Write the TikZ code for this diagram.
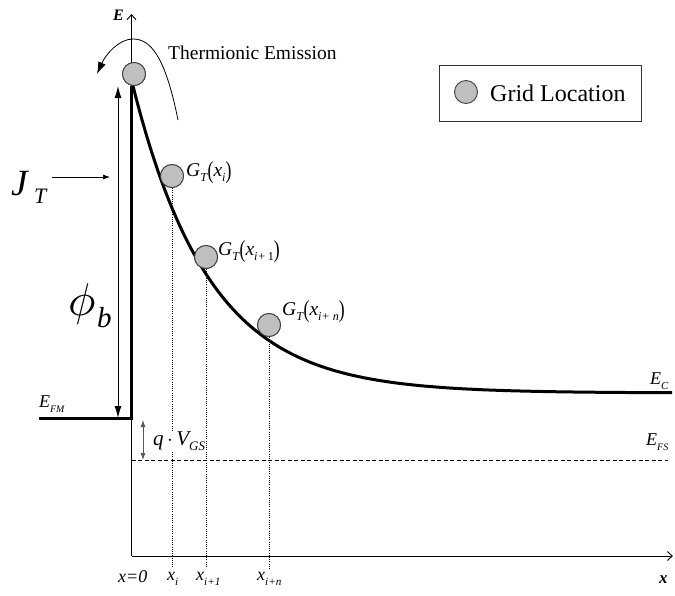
\documentclass[tikz,border=0pt]{standalone}
\usepackage{fontspec}
\setmainfont{Liberation Serif}
\usepackage{graphicx}
\usetikzlibrary{arrows.meta}
\newcommand\lsub[2][0.62]{\raisebox{-0.28em}{\scalebox{#1}{#2}}}
\newcommand\fsz[1]{\fontsize{#1}{#1}\selectfont}
\newcommand\tpar[1]{\raisebox{-0.12em}{\scalebox{0.9}[1.25]{#1}}}
\begin{document}
\begin{tikzpicture}[x=1pt,y=-1pt,
  gridpt/.style={circle,draw=black!75,fill=black!25,line width=0.9pt,minimum size=23pt,inner sep=0pt},
  lbl/.style={anchor=base west,inner sep=0pt},
  heavy/.style={line width=3pt},
  axisline/.style={line width=0.9pt,-{Straight Barb[length=5pt,width=9pt]}},
  guide/.style={line width=0.8pt,dash pattern=on 1pt off 1.2pt},
  dimarrow/.style={line width=0.9pt,{Latex[length=12pt,width=7pt]}-{Latex[length=12pt,width=7pt]}}
]
\useasboundingbox (0,0) rectangle (675,595);

% axes
\coordinate (o) at (131.5,556);
\coordinate (etop) at (131.5,14);
\coordinate (xend) at (673,556);
\draw[axisline] (o) -- (etop);
\draw[axisline] (o) -- (xend);
\node[lbl,font=\fsz{16}\bfseries\itshape] (Elab) at (113,20) {E};
\node[lbl,font=\fsz{17}\bfseries\itshape] (xlab) at (659,583) {x};

% Fermi level of semiconductor (dashed)
\coordinate (fs0) at (131.5,460);
\coordinate (fs1) at (668,460);
\draw[line width=0.9pt,dash pattern=on 4pt off 2.5pt] (fs0) -- (fs1);

% grid points
\node[gridpt] (c0) at (134,74) {};
\node[gridpt] (c1) at (172,176) {};
\node[gridpt] (c2) at (206,257) {};
\node[gridpt] (c3) at (269,325) {};

% dotted guides
\coordinate (g1) at (173,568);
\coordinate (g2) at (205,568);
\coordinate (g3) at (268,568);
\draw[guide] (c1.south) -- (c1.south |- g1);
\draw[guide] (c2.south) -- (c2.south |- g2);
\draw[guide] (c3.south) -- (c3.south |- g3);

% metal Fermi level and barrier
\coordinate (fm0) at (39,418);
\coordinate (fm1) at (131.5,418);
\draw[heavy] (fm0) -- (fm1) -- (c0.south -| fm1);

% conduction band
\draw[heavy,domain=133:672,samples=120,smooth,line join=round] plot (\x,{393-307*exp(-(\x-133)/77)});

% redraw circles on top
\node[gridpt] at (c0) {};
\node[gridpt] at (c1) {};
\node[gridpt] at (c2) {};
\node[gridpt] at (c3) {};

% barrier height arrow
\coordinate (pb0) at (118,86);
\coordinate (pb1) at (118,418);
\draw[dimarrow] (pb0) -- (pb1);

% J_T arrow
\coordinate (jt0) at (52,177);
\coordinate (jt1) at (110,177);
\draw[line width=0.7pt,-{Latex[length=7pt,width=5pt]}] (jt0) -- (jt1);
\node[lbl,font=\fsz{37}\itshape] (J) at (11,195) {J};
\node[lbl,font=\fsz{22}\itshape] (JT) at (34,203) {T};

% phi_b
\node[lbl] (phi) at (68,315) {\scalebox{4.6}{$\phi$}};
\node[lbl,font=\fsz{29}\itshape] (phib) at (97,327) {b};

% thermionic emission arc
\coordinate (a0) at (178,120);
\coordinate (atop) at (133,39);
\coordinate (a1) at (97,74);
\draw[line width=0.8pt,-{Latex[length=12pt,width=8pt]}] (a0) .. controls (165,55) and (150,39) .. (atop) .. controls (119,39) and (106,54) .. (a1);
\node[lbl,font=\fsz{19.5}] (te) at (168,59) {Thermionic Emission};

% q V_GS arrow
\coordinate (q0) at (143,420);
\coordinate (q1) at (143,460);
\draw[black!65,line width=0.9pt,{Latex[length=7pt,width=5pt]}-{Latex[length=7pt,width=5pt]}] (q0) -- (q1);
\node[lbl,fill=white,font=\fsz{21}\itshape] (qv) at (153,445) {q$\,\cdot\,$V\lsub{GS}};

% labels
\node[lbl,font=\fsz{19.5}] (gl1) at (186,176) {\textit{G}\lsub{\textit{T}}\tpar{(}\textit{x}\lsub{\textit{i}}\tpar{)}};
\node[lbl,font=\fsz{19.5}] (gl2) at (218,255) {\textit{G}\lsub{\textit{T}}\tpar{(}\textit{x}\lsub{\textit{i+}\,1}\tpar{)}};
\node[lbl,font=\fsz{19.5}] (gl3) at (282,315) {\textit{G}\lsub{\textit{T}}\tpar{(}\textit{x}\lsub{\textit{i+ n}}\tpar{)}};
\node[lbl,font=\fsz{18}\itshape] (efm) at (39,407) {E\lsub[0.55]{FM}};
\node[lbl,font=\fsz{18}\itshape] (ec) at (650,384) {E\lsub[0.6]{C}};
\node[lbl,font=\fsz{18}\itshape] (efs) at (646,445) {E\lsub[0.55]{FS}};

\node[lbl,font=\fsz{18}\itshape] (x0) at (118,582) {x=0};
\node[lbl,font=\fsz{18}\itshape] (xi) at (167,580) {x\lsub{i}};
\node[lbl,font=\fsz{18}\itshape] (xi1) at (196,580) {x\lsub{i+1}};
\node[lbl,font=\fsz{18}\itshape] (xin) at (257,580) {x\lsub{i+n}};

% legend
\node[draw=black!80,line width=0.8pt,minimum width=202pt,minimum height=56pt,inner sep=0pt] (legend) at (540,93) {};
\node[gridpt] (lc) at (466,92) {};
\node[lbl,font=\fsz{24}] (lt) at (490,101) {Grid Location};
\end{tikzpicture}
\end{document}
